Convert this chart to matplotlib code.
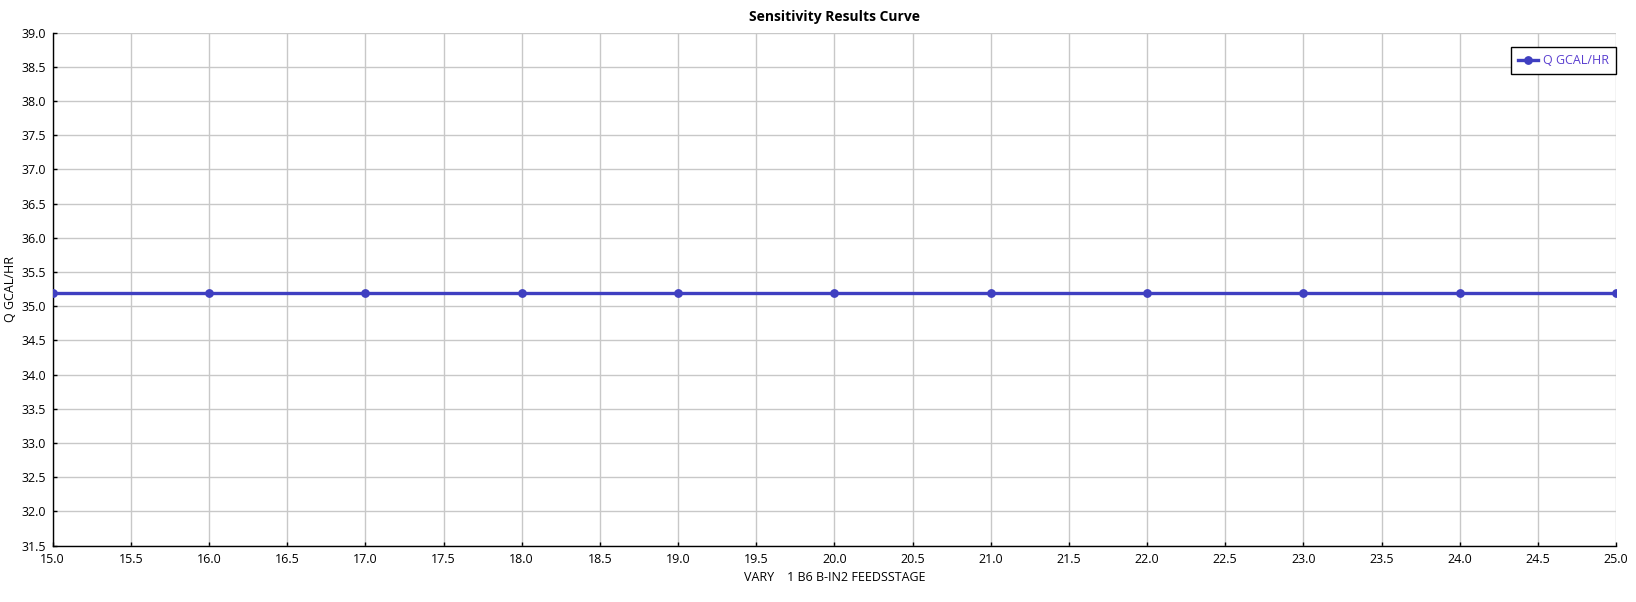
import matplotlib.pyplot as plt
import numpy as np

# Sensitivity results: feed stage vs duty
feed_stage = [15, 16, 17, 18, 19, 20, 21, 22, 23, 24, 25]
q_gcal_hr = [35.19, 35.19, 35.19, 35.19, 35.19, 35.19, 35.19, 35.19, 35.19, 35.19, 35.19]
x_ticks = np.arange(15.0, 25.01, 0.5)
y_ticks = np.arange(31.5, 39.01, 0.5)

plt.rcParams['font.family'] = ['Open Sans', 'DejaVu Sans']

W, H = 1636, 602
fig = plt.figure(figsize=(W / 100, H / 100), dpi=100, facecolor='white')
ax = fig.add_axes([52.7 / W, 1 - 545.7 / H, (1616 - 52.7) / W, (545.7 - 32.6) / H])

line_color = '#3F3FC1'
ax.plot(feed_stage, q_gcal_hr, color=line_color, linewidth=2.4, marker='o',
        markersize=5.3, label='Q GCAL/HR', zorder=3)

ax.set_xlim(15.0, 25.0)
ax.set_ylim(31.5, 39.0)
ax.set_xticks(x_ticks)
ax.set_yticks(y_ticks)
ax.set_xticklabels([f'{v:.1f}' for v in x_ticks])
ax.set_yticklabels([f'{v:.1f}' for v in y_ticks])
ax.tick_params(direction='in', length=3, width=1, labelsize=9, colors='black', pad=5)

ax.grid(True, color='#C8C8C8', linewidth=1)
ax.set_axisbelow(True)
for side in ['top', 'right']:
    ax.spines[side].set_visible(False)
for side in ['left', 'bottom']:
    ax.spines[side].set_linewidth(1)
    ax.spines[side].set_color('black')

ax.set_title('Sensitivity Results Curve', fontsize=10, fontweight='bold', pad=8)
ax.set_xlabel('VARY    1 B6 B-IN2 FEEDSSTAGE', fontsize=9, labelpad=4)
ax.set_ylabel('Q GCAL/HR', fontsize=9, labelpad=3)

leg = ax.legend(loc='upper right', bbox_to_anchor=(1.0, 0.971), fontsize=9,
                frameon=True, fancybox=False, framealpha=1, edgecolor='black',
                handlelength=1.6, handletextpad=0.45, borderpad=0.55, borderaxespad=0)
leg.get_frame().set_linewidth(1)
for t in leg.get_texts():
    t.set_color('#5A3FD0')

plt.savefig('out.png', dpi=100, facecolor='white')
plt.close()
